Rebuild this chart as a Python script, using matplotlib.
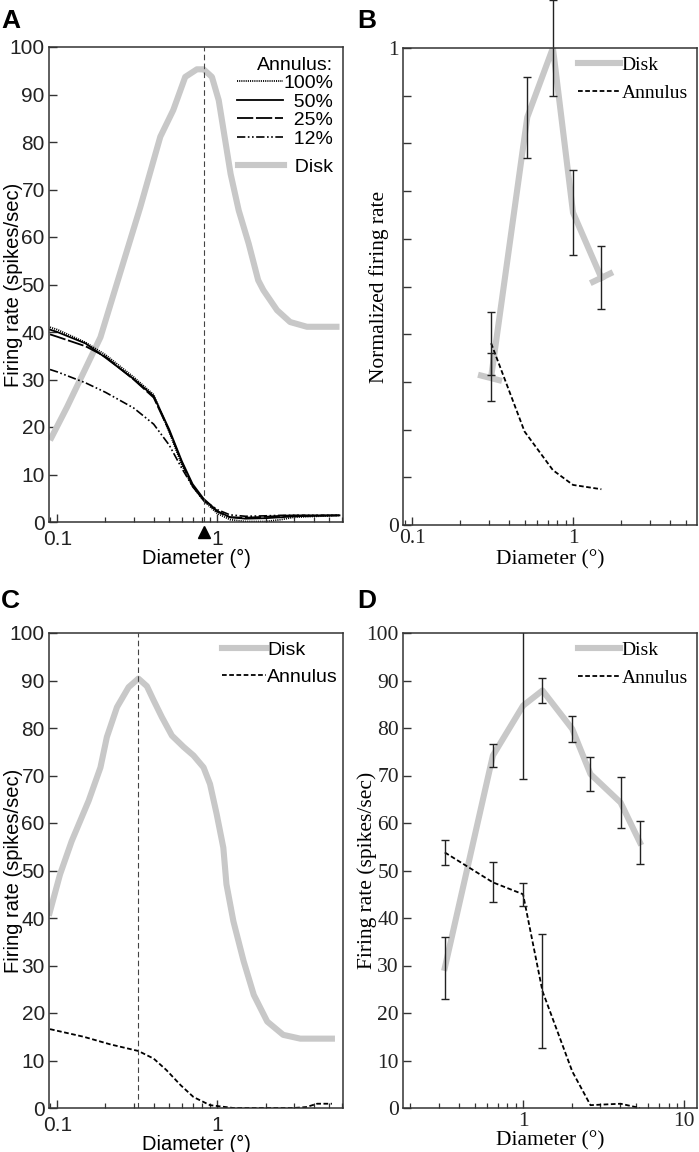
import matplotlib
matplotlib.use("Agg")
import matplotlib.pyplot as plt
import matplotlib.ticker as mticker
import numpy as np

# ---------------- data ----------------
# Panel A: example cell, tuning curves
a_x = [0.09, 0.1, 0.15, 0.2, 0.3, 0.4, 0.5, 0.6, 0.7, 0.82, 1.0, 1.2, 1.5, 2.0, 2.5, 3.0, 5.8]
a_ann100 = [41.0, 40.5, 37.8, 35.2, 30.5, 26.8, 19.0, 12.0, 7.5, 4.5, 1.8, 0.5, 0.1, 0.1, 0.5, 1.0, 1.4]
a_ann50 = [40.5, 40.0, 37.6, 34.6, 30.1, 26.5, 19.5, 12.8, 8.0, 4.9, 2.3, 1.0, 0.7, 0.8, 1.0, 1.2, 1.4]
a_ann25 = [39.5, 39.0, 37.0, 34.8, 30.0, 26.2, 19.2, 12.5, 7.6, 4.6, 2.2, 1.0, 0.9, 1.1, 1.3, 1.4, 1.4]
a_ann12 = [32.1, 31.6, 29.3, 27.3, 24.0, 20.6, 16.2, 11.3, 7.5, 4.6, 2.6, 1.5, 1.2, 1.3, 1.4, 1.4, 1.4]
a_disk_x = [0.09, 0.115, 0.186, 0.225, 0.33, 0.44, 0.53, 0.63, 0.745, 0.82, 0.925,
            1.02, 1.21, 1.36, 1.57, 1.8, 1.94, 2.36, 2.85, 3.63, 5.8]
a_disk = [17.2, 24.2, 38.9, 48.0, 66.3, 81.1, 86.7, 93.7, 95.3, 95.3, 93.7,
          88.8, 73.3, 65.6, 58.6, 50.9, 48.8, 44.6, 42.1, 41.1, 41.1]
a_peak = 0.82
a_labels = ["100%", "  50%", "  25%", "  12%"]

# Panel B: population, normalized
b_x = [0.31, 0.52, 0.75, 1.0, 1.5]
b_disk = [0.31, 0.855, 1.0, 0.655, 0.518]
b_disk_err = [0.05, 0.085, 0.1, 0.089, 0.066]
b_ann_x = [0.31, 0.5, 0.75, 1.0, 1.5]
b_ann = [0.381, 0.196, 0.115, 0.084, 0.075]
b_ann_err = [0.066, 0, 0, 0, 0]
b_stub_left_x = [0.257, 0.362]
b_stub_left_y = [0.315, 0.302]
b_stub_right_x = [1.28, 1.77]
b_stub_right_y = [0.507, 0.530]

# Panel C: second example cell
c_disk_x = [0.0895, 0.104, 0.123, 0.157, 0.186, 0.204, 0.236, 0.279, 0.321, 0.363, 0.40,
            0.45, 0.52, 0.616, 0.71, 0.82, 0.90, 0.99, 1.09, 1.14, 1.26, 1.46, 1.69,
            2.05, 2.58, 3.3, 5.2]
c_disk = [41.1, 49.2, 56.2, 64.7, 71.7, 78.1, 84.4, 88.6, 90.4, 88.8, 85.8,
          82.3, 78.4, 76.0, 74.2, 71.7, 68.2, 61.9, 54.8, 47.1, 39.3, 30.9, 23.8,
          18.2, 15.4, 14.6, 14.6]
c_ann_x = [0.09, 0.146, 0.214, 0.321, 0.40, 0.48, 0.59, 0.71, 0.90, 1.26, 3.0, 3.6, 4.2, 5.2]
c_ann = [16.6, 15.0, 13.4, 12.0, 10.4, 8.0, 4.8, 2.3, 0.6, 0.0, 0.0, 0.2, 0.9, 0.9]
c_peak = 0.321

# Panel D: second population
d_x = [0.327, 0.65, 1.0, 1.32, 2.02, 2.62, 4.03, 5.31]
d_disk = [29.5, 74.2, 84.7, 87.9, 79.8, 70.3, 64.3, 55.9]
d_disk_err = [6.5, 2.5, 15.5, 2.6, 2.8, 3.5, 5.4, 4.6]
d_ann = [53.8, 47.5, 45.0, 24.6, 7.7, 0.6, 0.9, 0.0]
d_ann_err = [2.7, 4.2, 2.4, 12.0, 0, 0, 0, 0]

GREY = "#c8c8c8"
AXC = "#333333"
SANS = ["Liberation Sans", "Arial", "DejaVu Sans"]
SERIF = ["Liberation Serif", "Times New Roman", "DejaVu Serif"]
ann_dash = (0, (2.6, 1.4))

fig = plt.figure(figsize=(6.99, 11.52), dpi=100)
W, H = 699.0, 1152.0


def make_ax(x0, y0, x1, y1):
    ax = fig.add_axes([x0 / W, 1 - y1 / H, (x1 - x0) / W, (y1 - y0) / H])
    ax.set_xscale("log")
    return ax


def style(ax, family, fs, xpad):
    for s in ax.spines.values():
        s.set_color(AXC)
        s.set_linewidth(1.1)
    ax.xaxis.set_major_formatter(mticker.FuncFormatter(lambda v, p: "%g" % v))
    ax.xaxis.set_minor_formatter(mticker.NullFormatter())
    ax.tick_params(axis="both", which="both", direction="in", top=False, right=False,
                   colors=AXC, labelcolor="#222222")
    ax.tick_params(which="major", length=6, width=1.0, labelsize=fs, pad=3)
    ax.tick_params(axis="x", which="major", pad=xpad)
    ax.tick_params(which="minor", length=3.5, width=0.9)
    for lab in ax.get_xticklabels() + ax.get_yticklabels():
        lab.set_family(family)


def labels(ax, family, fs, ylab, ylx, xly):
    ax.set_xlabel("Diameter (°)", family=family, fontsize=fs)
    ax.set_ylabel(ylab, family=family, fontsize=fs)
    ax.xaxis.set_label_coords(0.5, xly)
    ax.yaxis.set_label_coords(ylx, 0.5)


# ---------------- A ----------------
axA = make_ax(49, 47, 343, 522)
axA.plot(a_disk_x, a_disk, color=GREY, lw=4.4, solid_capstyle="butt")
l100, = axA.plot(a_x, a_ann100, color="black", lw=1.3, linestyle=(0, (0.6, 0.6)))
l50, = axA.plot(a_x, a_ann50, color="black", lw=1.3)
l25, = axA.plot(a_x, a_ann25, color="black", lw=1.3, linestyle=(0, (9, 1.5)))
l12, = axA.plot(a_x, a_ann12, color="black", lw=1.2, linestyle=(0, (5, 1.5, 1, 1.5, 1, 1.5)))
ld, = axA.plot([], [], color=GREY, lw=4.4)
axA.axvline(a_peak, color="#444444", lw=0.8, linestyle=(0, (5, 3)))
axA.plot([a_peak], [-2.2], marker="^", color="black", markersize=8, clip_on=False)
axA.set_xlim(0.0887, 6.1)
axA.set_ylim(0, 100)
axA.set_yticks(np.arange(0, 101, 10))
style(axA, SANS, 15, 6)
labels(axA, SANS, 14.5, "Firing rate (spikes/sec)", -0.09, -0.056)
legA = axA.legend([l100, l50, l25, l12], a_labels,
                  title="Annulus:", alignment="right", loc="upper right",
                  bbox_to_anchor=(0.966, 0.980), frameon=False,
                  prop={"family": SANS, "size": 14}, handlelength=2.35, handletextpad=0.0,
                  labelspacing=0.05, borderaxespad=0.0, borderpad=0.0)
legA.get_title().set_family(SANS)
legA.get_title().set_fontsize(14)
axA.add_artist(legA)
axA.legend([ld], ["  Disk"], loc="center right", bbox_to_anchor=(0.966, 0.747),
           frameon=False, prop={"family": SANS, "size": 14}, handlelength=2.35,
           handletextpad=0.0, borderaxespad=0.0, borderpad=0.0)

# ---------------- B ----------------
axB = make_ax(403, 48, 697, 525)
axB.plot(b_x, b_disk, color=GREY, lw=4.4, label="Disk")
axB.plot(b_stub_left_x, b_stub_left_y, color=GREY, lw=4.4, solid_capstyle="butt")
axB.plot(b_stub_right_x, b_stub_right_y, color=GREY, lw=4.4, solid_capstyle="butt")
axB.plot(b_ann_x, b_ann, color="black", lw=1.3, linestyle=ann_dash, label="Annulus")
axB.errorbar(b_x, b_disk, yerr=b_disk_err, fmt="none", ecolor="#222222", elinewidth=1.0,
             capsize=3, capthick=1.0, clip_on=False)
axB.errorbar(b_ann_x[:1], b_ann[:1], yerr=b_ann_err[:1], fmt="none", ecolor="#222222",
             elinewidth=1.0, capsize=3, capthick=1.0, clip_on=False)
axB.set_xlim(0.0879, 5.89)
axB.set_ylim(0, 1)
axB.set_yticks(np.arange(0, 1.01, 0.1))
axB.set_yticklabels(["0"] + [""] * 9 + ["1"])
style(axB, SERIF, 15.5, 3)
labels(axB, SERIF, 15.5, "Normalized firing rate", -0.048, -0.052)
axB.legend(loc="upper right", bbox_to_anchor=(1 - 4 / 294, 1 - 3 / 477), frameon=False,
           prop={"family": SERIF, "size": 14}, handlelength=2.15, handletextpad=0.1,
           labelspacing=0.55, borderaxespad=0.0, borderpad=0.26)

# ---------------- C ----------------
axC = make_ax(49, 633, 343, 1108)
axC.plot(c_disk_x, c_disk, color=GREY, lw=4.4, label="Disk")
axC.plot(c_ann_x, c_ann, color="black", lw=1.3, linestyle=ann_dash, label="Annulus")
axC.axvline(c_peak, color="#444444", lw=0.8, linestyle=(0, (5, 3)))
axC.set_xlim(0.0887, 6.1)
axC.set_ylim(0, 100)
axC.set_yticks(np.arange(0, 101, 10))
style(axC, SANS, 15, 6)
labels(axC, SANS, 14.5, "Firing rate (spikes/sec)", -0.09, -0.056)
axC.legend(loc="upper right", bbox_to_anchor=(1.0, 1 - 3 / 475), frameon=False,
           prop={"family": SANS, "size": 14}, handlelength=2.25, handletextpad=0.05,
           labelspacing=0.5, borderaxespad=0.0, borderpad=0.26)

# ---------------- D ----------------
axD = make_ax(403, 633, 697, 1108)
axD.plot(d_x, d_disk, color=GREY, lw=4.4, label="Disk")
axD.plot(d_x, d_ann, color="black", lw=1.3, linestyle=ann_dash, label="Annulus")
axD.errorbar(d_x, d_disk, yerr=d_disk_err, fmt="none", ecolor="#222222", elinewidth=1.0,
             capsize=3, capthick=1.0)
axD.errorbar(d_x[:4], d_ann[:4], yerr=d_ann_err[:4], fmt="none", ecolor="#222222",
             elinewidth=1.0, capsize=3, capthick=1.0)
axD.set_xlim(0.18, 12.0)
axD.set_ylim(0, 100)
axD.set_yticks(np.arange(0, 101, 10))
style(axD, SERIF, 15.5, 3)
labels(axD, SERIF, 15.5, "Firing rate (spikes/sec)", -0.089, -0.048)
axD.legend(loc="upper right", bbox_to_anchor=(1 - 4 / 294, 1 - 3 / 475), frameon=False,
           prop={"family": SERIF, "size": 14}, handlelength=2.15, handletextpad=0.1,
           labelspacing=0.55, borderaxespad=0.0, borderpad=0.26)

# panel letters
for letter, x, y in [("A", 1, 28), ("B", 357, 28), ("C", 1, 608), ("D", 357, 608)]:
    fig.text(x / W, 1 - y / H, letter, family=SANS, fontsize=19, fontweight="bold",
             va="baseline", ha="left")

fig.savefig("out.png", dpi=100)
